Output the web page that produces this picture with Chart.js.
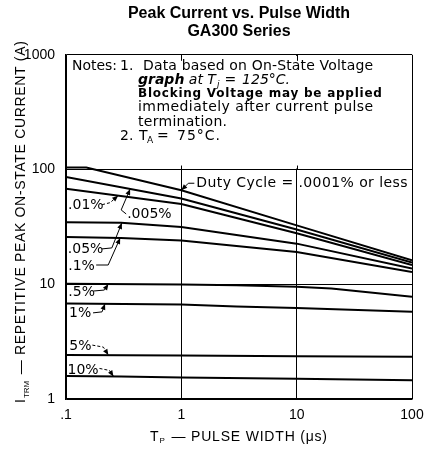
<!DOCTYPE html>
<html lang="en">
<head>
<meta charset="UTF-8">
<title>Peak Current vs. Pulse Width</title>
<script src="https://cdn.jsdelivr.net/npm/chart.js"></script>
<style>
  body { margin: 0; background: #fff; }
  #wrap { width: 425px; height: 454px; }
</style>
</head>
<body>
<div id="wrap"><canvas id="myChart"></canvas></div>
<script>
// duty cycle of each curve, top to bottom
const dutyCycles = ['.0001%', '.005%', '.01%', '.05%', '.1%', '.5%', '1%', '5%', '10%'];

// pulse width (us) and repetitive peak current (A)
const tp_0001 = [0.1, 0.15, 1, 10, 100];
const i_0001 = [104, 104, 66, 32.6, 16.2];
const tp_005 = [0.1, 1, 10, 100];
const i_005 = [86, 56, 30, 15.5];
const tp_01 = [0.1, 1, 10, 100];
const i_01 = [68, 50, 27.8, 14.7];
const tp_05 = [0.1, 0.3, 1, 10, 100];
const i_05 = [34.8, 34.3, 31.5, 22.6, 13.7];
const tp_1 = [0.1, 0.3, 1, 10, 100];
const i_1 = [25.8, 25.3, 24.1, 19.1, 12.8];
const tp_p5 = [0.1, 1, 3, 10, 20, 100];
const i_p5 = [10.1, 9.95, 9.8, 9.5, 9.2, 7.8];
const tp_1p = [0.1, 1, 3, 10, 100];
const i_1p = [6.8, 6.65, 6.4, 6.2, 5.75];
const tp_5p = [0.1, 1, 10, 100];
const i_5p = [2.42, 2.4, 2.36, 2.33];
const tp_10p = [0.1, 0.3, 1, 10, 100];
const i_10p = [1.59, 1.57, 1.54, 1.5, 1.46];

// axis ticks
const xTickVals = [0.1, 1, 10, 100];
const xTickText = ['.1', '1', '10', '100'];
const yTickVals = [1, 10, 100, 1000];
const yTickText = ['1', '10', '100', '1000'];

const curves = [
  [tp_0001, i_0001], [tp_005, i_005], [tp_01, i_01], [tp_05, i_05], [tp_1, i_1],
  [tp_p5, i_p5], [tp_1p, i_1p], [tp_5p, i_5p], [tp_10p, i_10p]
];

const FONT = "'Liberation Sans', Arial, sans-serif";
const NFONT = "'DejaVu Sans', sans-serif";

// label + leader arrow for each curve (tip sits on the curve at pulse width t)
const curveNotes = [
  { k: 0, t: 1, dx: 15, dy: -7, w: 211, path: [[13, -7], [7, -7]] },
  { k: 2, t: 0.283, dx: -50, dy: 10, path: [[-16, 9], [-8, 7]], dashed: true },
  { k: 1, t: 0.36, dx: -3, dy: 25, path: [[-4, 25], [-9, 21]] },
  { k: 3, t: 0.305, dx: -54, dy: 26, path: [[-20, 26], [-10, 25]] },
  { k: 4, t: 0.295, dx: -52, dy: 28, path: [[-24, 27], [-12, 27]] },
  { k: 5, t: 0.233, dx: -40, dy: 8, path: [[-15, 7], [-4, 6]] },
  { k: 6, t: 0.218, dx: -36, dy: 9, path: [[-12, 9], [-3, 8]] },
  { k: 7, t: 0.233, dx: -39, dy: -9, path: [[-16, -10], [-5, -8]], dashed: true },
  { k: 8, t: 0.258, dx: -46, dy: -6, path: [[-14, -8], [-4, -6]], dashed: true }
];

function curveAt(k, t) {
  const [xs, ys] = curves[k];
  for (let i = 0; i < xs.length - 1; i++) {
    if (t >= xs[i] && t <= xs[i + 1]) {
      const f = (Math.log10(t) - Math.log10(xs[i])) / (Math.log10(xs[i + 1]) - Math.log10(xs[i]));
      return Math.pow(10, Math.log10(ys[i]) + f * (Math.log10(ys[i + 1]) - Math.log10(ys[i])));
    }
  }
  return ys[0];
}

// draws text, stretched (letter spacing) or squeezed to a given width
function fitText(ctx, text, x, y, w) {
  ctx.letterSpacing = '0px';
  const m = ctx.measureText(text).width;
  if (w && m < w && text.length > 1) {
    const sp = Math.min(1.2, (w - m) / (text.length - 1));
    ctx.letterSpacing = sp.toFixed(2) + 'px';
    ctx.fillText(text, x, y);
    ctx.letterSpacing = '0px';
    return x + m + sp * (text.length - 1);
  }
  if (w) { ctx.fillText(text, x, y, w); return x + Math.min(m, w); }
  ctx.fillText(text, x, y);
  return x + m;
}

function leader(ctx, pts, dashed) {
  ctx.save();
  ctx.lineWidth = 1;
  if (dashed) ctx.setLineDash([3, 2]);
  ctx.beginPath();
  ctx.moveTo(pts[0][0], pts[0][1]);
  for (let i = 1; i < pts.length; i++) ctx.lineTo(pts[i][0], pts[i][1]);
  ctx.stroke();
  ctx.setLineDash([]);
  const [x1, y1] = pts[pts.length - 2];
  const [x2, y2] = pts[pts.length - 1];
  const a = Math.atan2(y2 - y1, x2 - x1);
  const c = Math.cos(a), s = Math.sin(a);
  ctx.beginPath();
  ctx.moveTo(x2, y2);
  ctx.lineTo(x2 - 6 * c + 2.5 * s, y2 - 6 * s - 2.5 * c);
  ctx.lineTo(x2 - 6 * c - 2.5 * s, y2 - 6 * s + 2.5 * c);
  ctx.closePath();
  ctx.fill();
  ctx.restore();
}

const notesPlugin = {
  id: 'notes',
  beforeDatasetsDraw(chart) {
    const { ctx, chartArea: a, scales } = chart;
    const y100 = scales.y.getPixelForValue(100);
    ctx.save();
    // notes panel hides the grid above 100 A
    ctx.fillStyle = '#fff';
    ctx.fillRect(a.left + 1, a.top + 1, a.right - a.left - 2, y100 - a.top - 2);
    ctx.strokeStyle = '#000';
    ctx.lineWidth = 1;
    [1, 10].forEach(v => {
      const x = Math.round(scales.x.getPixelForValue(v)) + 0.5;
      ctx.beginPath();
      ctx.moveTo(x, a.top); ctx.lineTo(x, a.top + 6);
      ctx.moveTo(x, y100 - 4); ctx.lineTo(x, y100);
      ctx.stroke();
    });

    ctx.fillStyle = '#000';
    ctx.textBaseline = 'middle';
    const L = a.left, T = a.top;
    ctx.font = '14px ' + NFONT;
    fitText(ctx, 'Notes:', L + 6, T + 12, 45);
    fitText(ctx, '1.', L + 54, T + 12);
    fitText(ctx, 'Data based on On-State Voltage', L + 77, T + 12, 230);

    let x = L + 72;
    ctx.font = 'italic bold 14px ' + NFONT;
    x = fitText(ctx, 'graph', x, T + 26);
    ctx.font = 'italic 14px ' + NFONT;
    x = fitText(ctx, ' at T', x, T + 26);
    ctx.font = 'italic 9px ' + NFONT;
    x = fitText(ctx, 'j', x + 1, T + 30);
    ctx.font = 'italic 14px ' + NFONT;
    x = fitText(ctx, '=', x + 5, T + 26);
    x = fitText(ctx, '125°C.', x + 6, T + 26);

    ctx.font = 'bold 12px ' + NFONT;
    fitText(ctx, 'Blocking Voltage may be applied', L + 72, T + 39, 244);
    ctx.font = '14px ' + NFONT;
    fitText(ctx, 'immediately after current pulse', L + 72, T + 53, 235);
    fitText(ctx, 'termination.', L + 72, T + 68, 89);

    fitText(ctx, '2.', L + 54, T + 82);
    fitText(ctx, 'T', L + 73, T + 82);
    ctx.font = '9px ' + NFONT;
    fitText(ctx, 'A', L + 81, T + 86);
    ctx.font = '14px ' + NFONT;
    fitText(ctx, '=', L + 91, T + 82, 16);
    fitText(ctx, '75°C.', L + 111, T + 82, 43);
    ctx.restore();
  },
  afterDatasetsDraw(chart) {
    const { ctx, scales } = chart;
    ctx.save();
    ctx.fillStyle = '#000';
    ctx.strokeStyle = '#000';
    ctx.textBaseline = 'middle';
    ctx.font = '14px ' + NFONT;
    curveNotes.forEach(n => {
      const tx = scales.x.getPixelForValue(n.t);
      const ty = scales.y.getPixelForValue(curveAt(n.k, n.t));
      const text = n.k === 0 ? 'Duty Cycle = ' + dutyCycles[0] + ' or less' : dutyCycles[n.k];
      fitText(ctx, text, tx + n.dx, ty + n.dy, n.w);
      const pts = n.path.map(p => [tx + p[0], ty + p[1]]);
      pts.push([tx, ty]);
      leader(ctx, pts, n.dashed);
    });
    ctx.restore();
  },
  afterDraw(chart) {
    const { ctx } = chart;
    ctx.save();
    ctx.fillStyle = '#000';
    ctx.textBaseline = 'middle';
    // y axis title
    ctx.translate(21, 403);
    ctx.rotate(-Math.PI / 2);
    ctx.font = '14px ' + FONT;
    let x = fitText(ctx, 'I', 0, 0);
    ctx.font = '8px ' + FONT;
    x = fitText(ctx, 'TRM', x + 1, 6);
    ctx.font = '14px ' + FONT;
    fitText(ctx, ' — REPETITIVE PEAK ON-STATE CURRENT (A)', x + 2, 0, 362 - x - 2);
    ctx.restore();

    // x axis title
    ctx.save();
    ctx.fillStyle = '#000';
    ctx.textBaseline = 'middle';
    ctx.font = '14px ' + FONT;
    x = fitText(ctx, 'T', 150, 437);
    ctx.font = '8px ' + FONT;
    x = fitText(ctx, 'P', x + 1, 441);
    ctx.font = '14px ' + FONT;
    fitText(ctx, ' — PULSE WIDTH (μs)', x + 2, 437, 327 - x - 2);
    ctx.restore();
  }
};

const data = {
  datasets: curves.map((c, k) => ({
    label: dutyCycles[k],
    data: c[0].map((t, i) => ({ x: t, y: c[1][i] })),
    borderColor: '#000',
    borderWidth: 2,
    pointRadius: 0,
    tension: 0,
    fill: false
  }))
};

const config = {
  type: 'line',
  data: data,
  options: {
    responsive: true,
    maintainAspectRatio: false,
    animation: false,
    events: [],
    layout: { padding: { left: 10, right: 13, top: 0, bottom: 10 } },
    plugins: {
      legend: { display: false },
      tooltip: { enabled: false },
      title: {
        display: true,
        text: ['Peak Current vs. Pulse Width', 'GA300 Series'],
        color: '#000',
        font: { family: FONT, size: 16, weight: 'bold', lineHeight: 1.15 },
        padding: { top: 4, bottom: 14 },
        fullSize: false
      }
    },
    scales: {
      x: {
        type: 'logarithmic',
        min: 0.1,
        max: 100,
        afterBuildTicks: s => { s.ticks = xTickVals.map(v => ({ value: v })); },
        afterFit: s => { s.height = 45; s.paddingLeft = 4; s.paddingRight = 4; },
        ticks: {
          callback: v => xTickText[xTickVals.indexOf(v)],
          color: '#000',
          font: { family: FONT, size: 14 },
          padding: 8,
          maxRotation: 0,
          autoSkip: false
        },
        grid: { color: '#000', lineWidth: 1, drawTicks: false },
        border: { color: '#000', width: 1.5 }
      },
      y: {
        type: 'logarithmic',
        min: 1,
        max: 1000,
        afterBuildTicks: s => { s.ticks = yTickVals.map(v => ({ value: v })); },
        afterFit: s => { s.width = 56; },
        ticks: {
          callback: v => yTickText[yTickVals.indexOf(v)],
          color: '#000',
          font: { family: FONT, size: 14 },
          padding: 11,
          autoSkip: false
        },
        grid: { color: '#000', lineWidth: 1, drawTicks: false },
        border: { color: '#000', width: 1.5 }
      }
    }
  },
  plugins: [notesPlugin]
};

const myChart = new Chart(document.getElementById('myChart'), config);
</script>
</body>
</html>
